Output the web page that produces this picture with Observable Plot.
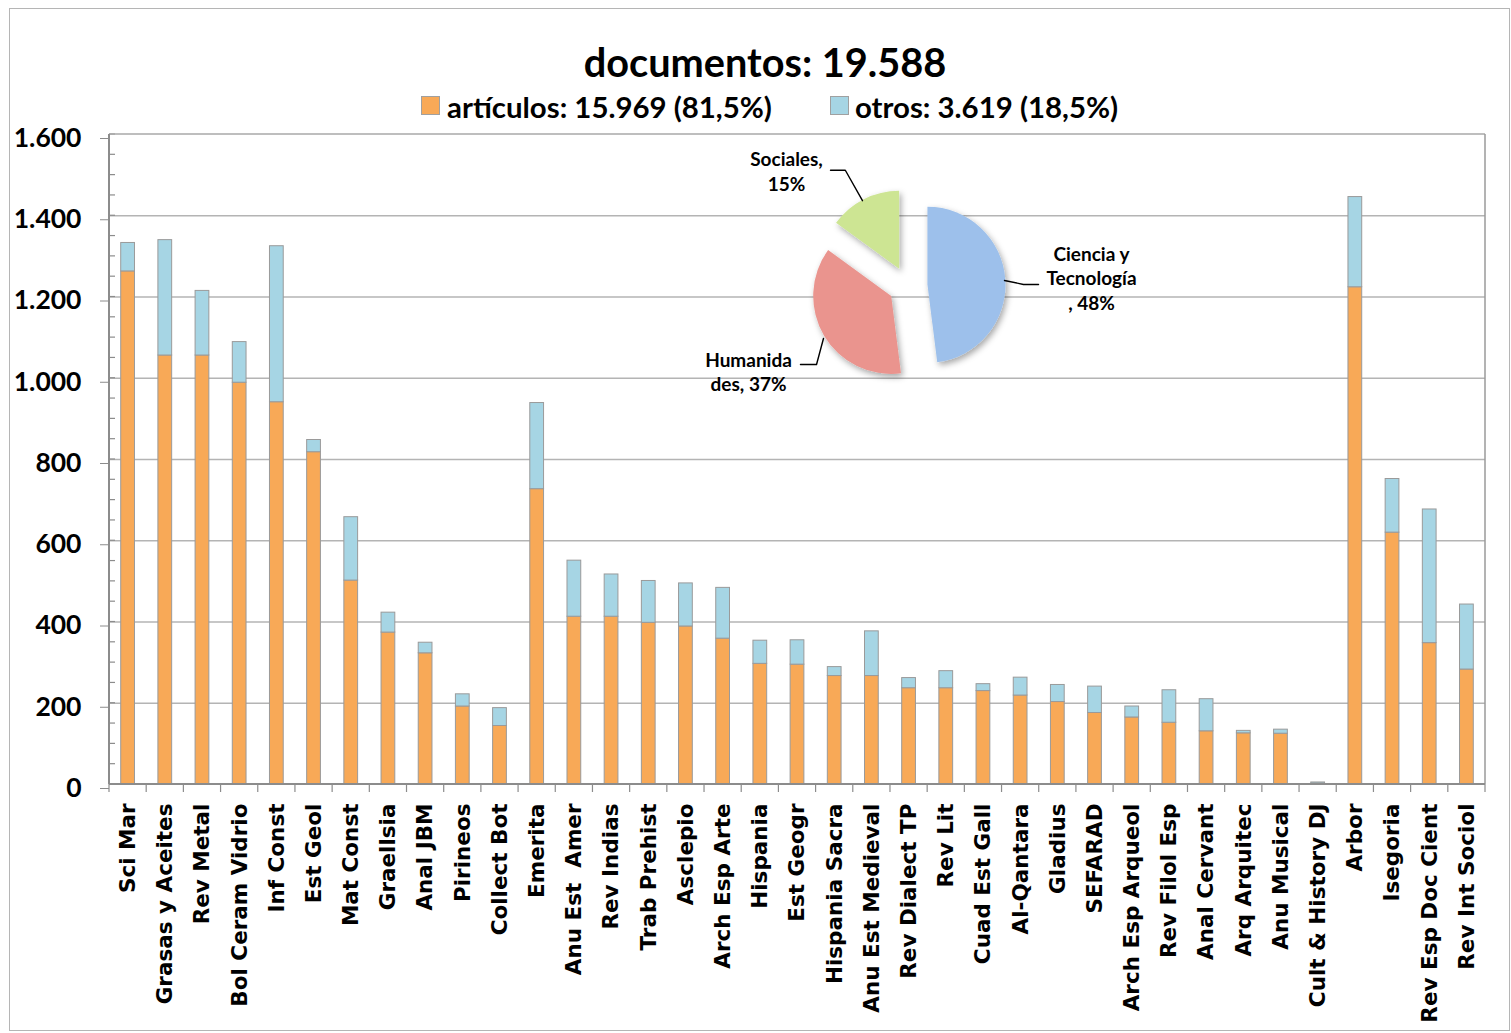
<!DOCTYPE html>
<html><head><meta charset="utf-8">
<script src="https://cdn.jsdelivr.net/npm/d3@7"></script>
<script src="https://cdn.jsdelivr.net/npm/@observablehq/plot@0.6"></script>
<style>
body{margin:0;background:#fff;}
#wrap{position:relative;width:1511px;height:1033px;overflow:hidden;background:#fff;}
#border{position:absolute;left:9px;top:8px;width:1501px;height:1023px;border:1px solid #b5b5b5;box-sizing:border-box;}
.t{position:absolute;font-family:Lato,sans-serif;font-weight:bold;color:#000;white-space:nowrap;line-height:1;}
#title{left:0;width:1530px;text-align:center;top:42px;font-size:39.7px;}
.lg{top:92px;font-size:29.4px;}
.sw{position:absolute;top:96px;width:19px;height:19px;border:1px solid #a0a0a0;box-sizing:border-box;}
#main{position:absolute;left:0;top:118px;}
#pie{position:absolute;left:680px;top:140px;}
svg text{white-space:pre;}
</style></head>
<body><div id="wrap"><div id="border"></div><div id="main"></div><div id="pie"></div></div>
<script>
// ---------- data ----------
const journals = ["Sci Mar","Grasas y Aceites","Rev Metal","Bol Ceram Vidrio","Inf Const","Est Geol","Mat Const","Graellsia","Anal JBM","Pirineos","Collect Bot","Emerita","Anu Est  Amer","Rev Indias","Trab Prehist","Asclepio","Arch Esp Arte","Hispania","Est Geogr","Hispania Sacra","Anu Est Medieval","Rev Dialect TP","Rev Lit","Cuad Est Gall","Al-Qantara","Gladius","SEFARAD","Arch Esp Arqueol","Rev Filol Esp","Anal Cervant","Arq Arquitec","Anu Musical","Cult & History DJ","Arbor","Isegoria","Rev Esp Doc Cient","Rev Int Sociol"];
const series = ["artículos","otros"];
const articulos = [1263,1056,1056,989,941,818,502,374,323,192,144,727,413,413,398,389,359,297,295,267,267,237,237,230,219,203,176,165,152,131,126,125,2,1224,620,348,283];
const otros = [70,284,159,100,384,30,156,49,26,30,44,212,138,104,103,106,125,57,60,22,110,25,42,17,44,42,65,27,80,79,6,10,3,222,132,329,160];
const yTicks = [0,200,400,600,800,1000,1200,1400,1600];
const yMinor = d3.range(0,1601,50);
const titleText = "documentos: 19.588";
const legendLabels = ["artículos: 15.969 (81,5%)","otros: 3.619 (18,5%)"];
const pieAreas = ["Ciencia y Tecnología","Humanidades","Sociales"];
const pieShares = [48,37,15];
const pieLabels = ["Ciencia y\nTecnología\n, 48%","Humanida\ndes, 37%","Sociales,\n15%"];

// ---------- styles ----------
const barColors = ["#F8A957","#A6D5E4"];
const pieColors = ["#9DC0EB","#EA948E","#CDE593"];

// ---------- title & legend ----------
const wrap = document.getElementById("wrap");
function addDiv(cls, id, text, style){const d=document.createElement("div");d.className=cls;if(id)d.id=id;if(text!=null)d.textContent=text;Object.assign(d.style,style||{});wrap.appendChild(d);return d;}
addDiv("t","title",titleText);
const legendX = [[421,447],[830,855]];
legendLabels.forEach((lab,i)=>{
  addDiv("sw",null,null,{left:legendX[i][0]+"px",background:barColors[i]});
  addDiv("t lg",null,lab,{left:legendX[i][1]+"px"});
});

// ---------- bar chart ----------
const fmt = d3.formatLocale({decimal:",",thousands:".",grouping:[3],currency:["","€"]}).format(",d");
const data = journals.flatMap((j,i)=>[
  {journal:j,type:series[0],value:articulos[i]},
  {journal:j,type:series[1],value:otros[i]}
]);

function decor(index, scales, values, dims){
  const x = scales.x, y = scales.y;
  const step = x(journals[1]) - x(journals[0]);
  const bw = typeof x.bandwidth === "function" ? x.bandwidth() : step*0.37;
  const left = dims.marginLeft, right = dims.width - dims.marginRight;
  const y0 = y(0), yTop = y(1600);
  const g = d3.create("svg:g");
  yMinor.forEach(v=>{ g.append("line").attr("x1",left).attr("x2",left+6).attr("y1",y(v)).attr("y2",y(v)).attr("stroke","#8c8c8c").attr("stroke-width",1.2); });
  const bounds = journals.map(j=>x(j)+bw/2-step/2).concat([x(journals[journals.length-1])+bw/2+step/2]);
  bounds.forEach(b=>{ g.append("line").attr("x1",b).attr("x2",b).attr("y1",y0).attr("y2",y0+8).attr("stroke","#8c8c8c").attr("stroke-width",1.2); });
  g.append("line").attr("x1",left).attr("x2",right).attr("y1",yTop).attr("y2",yTop).attr("stroke","#a8a8a8").attr("stroke-width",1.5);
  g.append("line").attr("x1",right).attr("x2",right).attr("y1",yTop).attr("y2",y0).attr("stroke","#9a9a9a").attr("stroke-width",1.5);
  g.append("line").attr("x1",left).attr("x2",left).attr("y1",yTop).attr("y2",y0).attr("stroke","#8c8c8c").attr("stroke-width",2);
  g.append("line").attr("x1",left).attr("x2",right).attr("y1",y0).attr("y2",y0).attr("stroke","#8c8c8c").attr("stroke-width",2);
  return g.node();
}

const main = Plot.plot({
  width:1511, height:913,
  marginTop:16, marginLeft:109, marginRight:26, marginBottom:247,
  x:{domain:journals, paddingInner:0.63, paddingOuter:0.315, round:false, axis:null, label:null},
  y:{domain:[0,1600], axis:null, label:null},
  color:{domain:series, range:barColors},
  style:{background:"transparent", overflow:"visible"},
  marks:[
    Plot.gridY(yTicks.filter(v=>v>0 && v<1600), {stroke:"#b4b4b4", strokeOpacity:1, strokeWidth:1.3}),
    Plot.barY(data, {x:"journal", y:"value", fill:"type", stroke:"#9a9a9a", strokeWidth:1}),
    Plot.axisY(yTicks, {tickSize:9, tickPadding:19, tickFormat:fmt, fontSize:26.5, fontWeight:"bold", fontFamily:"Lato", stroke:"#8c8c8c", fill:"#000", dy:4, label:null}),
    Plot.axisX({tickSize:0, tickRotate:-90, tickPadding:19, fontSize:21.5, fontWeight:"bold", fontFamily:"DejaVu Sans", fill:"#000", label:null}),
    decor
  ]
});
document.getElementById("main").appendChild(main);

// ---------- pie ----------
const R = 78, CX = 228, CY = 146, PW = 480, PH = 280;
function pieMark(index, scales){
  const x = scales.x, y = scales.y;
  const cx = x(0), cy = y(0), r = x(1) - x(0);
  const g = d3.create("svg:g");
  const f = g.append("defs").append("filter").attr("id","pshadow").attr("x","-30%").attr("y","-30%").attr("width","160%").attr("height","160%");
  f.append("feDropShadow").attr("dx",2).attr("dy",3).attr("stdDeviation",3).attr("flood-color","#000").attr("flood-opacity",0.35);
  const arcs = d3.pie().sort(null)(pieShares);
  const arc = d3.arc().innerRadius(0).outerRadius(r);
  arcs.forEach((a,i)=>{
    const mid = (a.startAngle+a.endAngle)/2, off = r*0.25;
    g.append("path").attr("d",arc(a))
      .attr("transform",`translate(${cx+Math.sin(mid)*off},${cy-Math.cos(mid)*off})`)
      .attr("fill",pieColors[i]).attr("filter","url(#pshadow)");
  });
  return g.node();
}
const labelPlace = [[2.346,-0.115],[-2.051,1.083],[-1.564,-1.487]];
const leaderPlace = [
  [[1.231,-0.077],[1.474,-0.026],[1.667,-0.026]],
  [[-1.090,0.667],[-1.179,1.0],[-1.385,1.0]],
  [[-0.590,-1.10],[-0.81,-1.49],[-1.0,-1.49]]
];
const labelData = pieAreas.map((a,i)=>({area:a,label:pieLabels[i],x:labelPlace[i][0],y:labelPlace[i][1]}));
const leaderData = pieAreas.flatMap((a,i)=>leaderPlace[i].map(p=>({area:a,x:p[0],y:p[1]})));

const pie = Plot.plot({
  width:PW, height:PH, margin:0,
  x:{domain:[-CX/R,(PW-CX)/R], axis:null},
  y:{domain:[-CY/R,(PH-CY)/R], reverse:true, axis:null},
  style:{background:"transparent", overflow:"visible"},
  marks:[
    pieMark,
    Plot.line(leaderData, {x:"x", y:"y", z:"area", stroke:"#000", strokeWidth:1.4}),
    Plot.text(labelData, {x:"x", y:"y", text:"label", fontSize:19, fontWeight:"bold", fontFamily:"Lato", lineHeight:1.29, fill:"#000"})
  ]
});
document.getElementById("pie").appendChild(pie);
</script>
</body></html>
